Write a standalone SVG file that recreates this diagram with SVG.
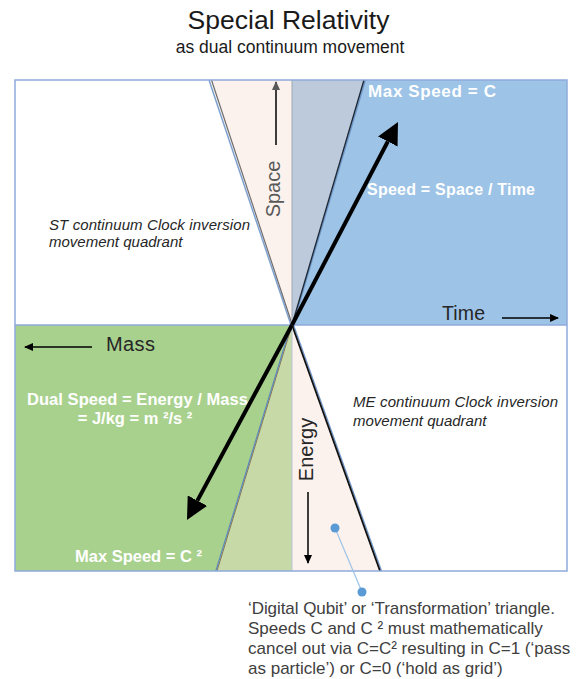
<svg xmlns="http://www.w3.org/2000/svg" width="579" height="679" viewBox="0 0 579 679">
<style>
.t{font-family:"Liberation Sans",Arial,sans-serif}
.wb{font-family:"Liberation Sans",Arial,sans-serif;font-weight:bold;fill:#ffffff}
.it{font-family:"Liberation Sans",Arial,sans-serif;font-style:italic;fill:#262626;font-size:15px}
.frame{fill:none;stroke:#8eaadb;stroke-width:1.5}
.big{stroke:#000;stroke-width:4;fill:none}
.ax{stroke:#000;stroke-width:1.5;fill:none}
</style>
<defs>
<marker id="hBig" markerUnits="userSpaceOnUse" viewBox="0 0 22 22" refX="0" refY="11" markerWidth="22" markerHeight="22" orient="auto"><path d="M0,0 L22,11 L0,22 z" fill="#000"/></marker>
<marker id="hSm" markerUnits="userSpaceOnUse" viewBox="0 0 9 8" refX="8" refY="4" markerWidth="9" markerHeight="8" orient="auto"><path d="M0,0 L9,4 L0,8 z" fill="#000"/></marker>
<marker id="hSmG" markerUnits="userSpaceOnUse" viewBox="0 0 9 8" refX="8" refY="4" markerWidth="9" markerHeight="8" orient="auto"><path d="M0,0 L9,4 L0,8 z" fill="#595959"/></marker>
</defs>
<rect width="579" height="679" fill="#fff"/>
<g id="title">
<text class="t" x="288.5" y="29" font-size="26.5" text-anchor="middle" fill="#1a1a1a">Special Relativity</text>
<text class="t" x="290" y="53" font-size="17.5" text-anchor="middle" fill="#1a1a1a">as dual continuum movement</text>
</g>
<g id="quadrant-st">
<rect x="15" y="80" width="277" height="245" fill="#fff"/>
<polygon points="210,80 292,80 292,325" fill="#fcf2ed"/>
<line x1="209" y1="80" x2="291" y2="325" stroke="#7ea1d2" stroke-width="1.5"/>
<line x1="211.5" y1="80" x2="292" y2="324" stroke="#6d6d6d" stroke-width="1.2"/>
<text class="it" x="49" y="230" textLength="201">ST continuum Clock inversion</text>
<text class="it" x="49" y="247">movement quadrant</text>
</g>
<g id="quadrant-c">
<rect x="292" y="80" width="275" height="245" fill="#9dc3e6"/>
<polygon points="292,80 364,80 292,325" fill="#bdcadb"/>
<line x1="365.5" y1="80" x2="293" y2="325" stroke="#6f97c9" stroke-width="1.2"/>
<line x1="364" y1="80" x2="292" y2="325" stroke="#1e2a38" stroke-width="1.4"/>
<line x1="292" y1="80" x2="292" y2="325" stroke="#a0a8b3" stroke-width="1"/>
<text class="wb" x="368" y="97" font-size="17" textLength="128">Max Speed = C</text>
<text class="wb" x="367" y="195" font-size="16" textLength="168">Speed = Space / Time</text>
</g>
<g id="quadrant-me">
<rect x="292" y="325" width="275" height="246" fill="#fff"/>
<polygon points="292,325 292,571 380,571" fill="#fcf2ed"/>
<line x1="293.5" y1="325" x2="381.5" y2="571" stroke="#6f97c9" stroke-width="1.3"/>
<line x1="292" y1="325" x2="380" y2="571" stroke="#111" stroke-width="1.8"/>
<text class="it" x="353" y="407" textLength="205">ME continuum Clock inversion</text>
<text class="it" x="353" y="426">movement quadrant</text>
</g>
<g id="quadrant-dual">
<rect x="15" y="325" width="277" height="246" fill="#a9d18e"/>
<polygon points="292,325 292,571 217,571" fill="#c6d9a6"/>
<line x1="292" y1="325" x2="217" y2="571" stroke="#8a7556" stroke-width="1"/>
<line x1="291" y1="325" x2="215.8" y2="571" stroke="#5b86c0" stroke-width="1.1"/>
<line x1="292" y1="325" x2="292" y2="571" stroke="#b7c6d6" stroke-width="1"/>
<text class="wb" x="27" y="405" font-size="16.5" textLength="221">Dual Speed = Energy / Mass</text>
<text class="wb" x="135" y="424" font-size="16.5" text-anchor="middle">= J/kg = m ²/s ²</text>
<text class="wb" x="75" y="562" font-size="16.5">Max Speed = C ²</text>
</g>
<g id="frame">
<rect class="frame" x="15" y="80" width="552" height="491"/>
<line class="frame" x1="15" y1="325" x2="567" y2="325"/>
</g>
<g id="axis-labels">
<text class="t" x="442" y="320" font-size="19.5" fill="#262626" textLength="43">Time</text>
<text class="t" x="106" y="351" font-size="20" fill="#262626" textLength="49">Mass</text>
<text class="t" transform="translate(280,189) rotate(-90)" font-size="20" fill="#595959" text-anchor="middle">Space</text>
<text class="t" transform="translate(313,449.5) rotate(-90)" font-size="20" fill="#262626" text-anchor="middle">Energy</text>
</g>
<g id="connectors">
<line class="big" x1="292" y1="325" x2="387.8" y2="141.5" marker-end="url(#hBig)"/>
<line class="big" x1="292" y1="325" x2="197.4" y2="500.6" marker-end="url(#hBig)"/>
<line class="ax" x1="502" y1="318" x2="558" y2="318" marker-end="url(#hSm)"/>
<line class="ax" x1="92" y1="347" x2="25" y2="347" marker-end="url(#hSm)"/>
<line class="ax" x1="276" y1="145" x2="276" y2="82" stroke="#595959" marker-end="url(#hSmG)"/>
<line class="ax" x1="308" y1="492" x2="308" y2="563" marker-end="url(#hSm)"/>
<line x1="335" y1="528" x2="362" y2="592" stroke="#9dc3e6" stroke-width="1.2"/>
<circle cx="335" cy="528" r="4.5" fill="#5b9bd5"/>
<circle cx="362" cy="592" r="4.5" fill="#5b9bd5"/>
</g>
<g id="callout">
<text class="t" font-size="17" fill="#404040">
<tspan x="248" y="614" textLength="307">‘Digital Qubit’ or ‘Transformation’ triangle.</tspan>
<tspan x="248" y="634">Speeds C and C ² must mathematically</tspan>
<tspan x="248" y="654">cancel out via C=C² resulting in C=1 (‘pass</tspan>
<tspan x="248" y="674">as particle’) or C=0 (‘hold as grid’)</tspan>
</text>
</g>
</svg>
